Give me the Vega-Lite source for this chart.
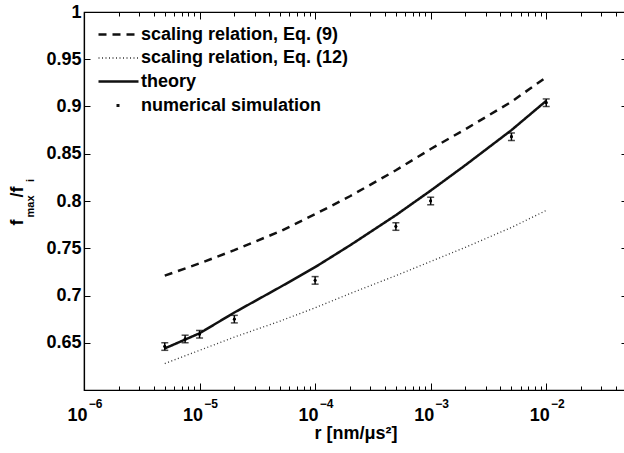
{
  "$schema": "https://vega.github.io/schema/vega-lite/v6.json",
  "width": 543,
  "height": 378,
  "autosize": {"type": "none"},
  "padding": {"left": 84, "top": 12, "right": 0, "bottom": 63},
  "background": "white",
  "config": {
    "view": {"stroke": "black", "strokeWidth": 1.2},
    "font": "Liberation Sans",
    "axis": {
      "grid": false,
      "labelFont": "Liberation Sans",
      "labelFontWeight": "bold",
      "labelFontSize": 18,
      "labelColor": "black",
      "titleFont": "Liberation Sans",
      "titleFontWeight": "bold",
      "titleFontSize": 18,
      "titleColor": "black",
      "domainColor": "black",
      "domainWidth": 1.2,
      "tickColor": "black",
      "tickWidth": 1
    }
  },
  "datasets": {
    "lines": [
      {"series": "scaling relation, Eq. (9)", "r": 5e-6, "f": 0.721},
      {"series": "scaling relation, Eq. (9)", "r": 1e-5, "f": 0.734},
      {"series": "scaling relation, Eq. (9)", "r": 2e-5, "f": 0.748},
      {"series": "scaling relation, Eq. (9)", "r": 5e-5, "f": 0.768},
      {"series": "scaling relation, Eq. (9)", "r": 1e-4, "f": 0.786},
      {"series": "scaling relation, Eq. (9)", "r": 2e-4, "f": 0.805},
      {"series": "scaling relation, Eq. (9)", "r": 5e-4, "f": 0.8325},
      {"series": "scaling relation, Eq. (9)", "r": 1e-3, "f": 0.855},
      {"series": "scaling relation, Eq. (9)", "r": 2e-3, "f": 0.876},
      {"series": "scaling relation, Eq. (9)", "r": 5e-3, "f": 0.905},
      {"series": "scaling relation, Eq. (9)", "r": 1e-2, "f": 0.931},
      {"series": "scaling relation, Eq. (12)", "r": 5e-6, "f": 0.628},
      {"series": "scaling relation, Eq. (12)", "r": 1e-5, "f": 0.642},
      {"series": "scaling relation, Eq. (12)", "r": 2e-5, "f": 0.656},
      {"series": "scaling relation, Eq. (12)", "r": 5e-5, "f": 0.673},
      {"series": "scaling relation, Eq. (12)", "r": 1e-4, "f": 0.687},
      {"series": "scaling relation, Eq. (12)", "r": 2e-4, "f": 0.702},
      {"series": "scaling relation, Eq. (12)", "r": 5e-4, "f": 0.721},
      {"series": "scaling relation, Eq. (12)", "r": 1e-3, "f": 0.736},
      {"series": "scaling relation, Eq. (12)", "r": 2e-3, "f": 0.751},
      {"series": "scaling relation, Eq. (12)", "r": 5e-3, "f": 0.772},
      {"series": "scaling relation, Eq. (12)", "r": 1e-2, "f": 0.790},
      {"series": "theory", "r": 5e-6, "f": 0.644},
      {"series": "theory", "r": 1e-5, "f": 0.660},
      {"series": "theory", "r": 2e-5, "f": 0.682},
      {"series": "theory", "r": 5e-5, "f": 0.709},
      {"series": "theory", "r": 1e-4, "f": 0.730},
      {"series": "theory", "r": 2e-4, "f": 0.753},
      {"series": "theory", "r": 5e-4, "f": 0.785},
      {"series": "theory", "r": 1e-3, "f": 0.811},
      {"series": "theory", "r": 2e-3, "f": 0.838},
      {"series": "theory", "r": 5e-3, "f": 0.875},
      {"series": "theory", "r": 1e-2, "f": 0.906}
    ],
    "sim": [
      {"r": 5e-6, "f": 0.646, "lo": 0.642, "hi": 0.650},
      {"r": 7.5e-6, "f": 0.654, "lo": 0.650, "hi": 0.658},
      {"r": 1e-5, "f": 0.659, "lo": 0.655, "hi": 0.663},
      {"r": 2e-5, "f": 0.675, "lo": 0.671, "hi": 0.679},
      {"r": 1e-4, "f": 0.716, "lo": 0.712, "hi": 0.720},
      {"r": 5e-4, "f": 0.773, "lo": 0.769, "hi": 0.777},
      {"r": 1e-3, "f": 0.800, "lo": 0.796, "hi": 0.804},
      {"r": 5e-3, "f": 0.868, "lo": 0.864, "hi": 0.872},
      {"r": 1e-2, "f": 0.904, "lo": 0.900, "hi": 0.908}
    ]
  },
  "resolve": {"axis": {"x": "independent", "y": "independent"}},
  "layer": [
    {
      "data": {"name": "lines"},
      "mark": {"type": "line", "strokeCap": "butt"},
      "encoding": {
        "x": {
          "field": "r", "type": "quantitative",
          "scale": {"type": "log", "domain": [1e-6, 5e-2], "nice": false},
          "axis": {
            "orient": "bottom",
            "values": [1e-6, 1e-5, 1e-4, 1e-3, 1e-2],
            "labelExpr": "'10'",
            "labelOffset": -7,
            "ticks": false, "domain": true, "labelFlush": false, "labelOverlap": false,
            "labelPadding": 16, "titlePadding": 0,
            "title": "r [nm/μs²]"
          }
        },
        "y": {
          "field": "f", "type": "quantitative",
          "scale": {"domain": [0.6, 1], "nice": false, "zero": false},
          "axis": {
            "orient": "left",
            "values": [0.65, 0.7, 0.75, 0.8, 0.85, 0.9, 0.95, 1],
            "format": ".2~f", "ticks": false, "domain": true, "labelFlush": false,
            "labelPadding": 3,
            "title": "f", "titleX": -61.5, "titleY": 210, "titleBaseline": "alphabetic", "titleAlign": "center", "titleFontSize": 18
          }
        },
        "stroke": {
          "field": "series", "type": "nominal",
          "scale": {
            "domain": ["scaling relation, Eq. (9)", "scaling relation, Eq. (12)", "theory", "numerical simulation"],
            "range": ["#111111", "#333333", "#111111", "#111111"]
          },
          "legend": {
            "title": null, "orient": "none", "legendX": 13, "legendY": 11,
            "symbolType": "M-2,0H2", "symbolSize": 400, "symbolOffset": 10,
            "labelOffset": 11, "labelFont": "Liberation Sans", "labelFontSize": 18,
            "labelFontWeight": "bold", "labelColor": "black", "rowPadding": 3, "padding": 0,
            "labelLimit": 400
          }
        },
        "strokeDash": {
          "field": "series", "type": "nominal",
          "scale": {
            "domain": ["scaling relation, Eq. (9)", "scaling relation, Eq. (12)", "theory", "numerical simulation"],
            "range": [[8, 6], [1, 2.5], [1, 0], [0, 18, 3, 100]]
          },
          "legend": {
            "title": null, "orient": "none", "legendX": 13, "legendY": 11,
            "symbolType": "M-2,0H2", "symbolSize": 400, "symbolOffset": 10,
            "labelOffset": 11, "labelFont": "Liberation Sans", "labelFontSize": 18,
            "labelFontWeight": "bold", "labelColor": "black", "rowPadding": 3, "padding": 0,
            "labelLimit": 400
          }
        },
        "strokeWidth": {
          "field": "series", "type": "nominal",
          "scale": {
            "type": "ordinal",
            "domain": ["scaling relation, Eq. (9)", "scaling relation, Eq. (12)", "theory", "numerical simulation"],
            "range": [2.5, 1.3, 2.5, 3]
          },
          "legend": {
            "title": null, "orient": "none", "legendX": 13, "legendY": 11,
            "symbolType": "M-2,0H2", "symbolSize": 400, "symbolOffset": 10,
            "labelOffset": 11, "labelFont": "Liberation Sans", "labelFontSize": 18,
            "labelFontWeight": "bold", "labelColor": "black", "rowPadding": 3, "padding": 0,
            "labelLimit": 400
          }
        }
      }
    },
    {
      "data": {"name": "sim"},
      "mark": {"type": "rule", "color": "black", "strokeWidth": 1.5},
      "encoding": {
        "x": {
          "field": "r", "type": "quantitative",
          "axis": {"orient": "bottom", "values": [1e-6, 1e-5, 1e-4, 1e-3, 1e-2], "tickSize": -7, "labels": false, "domain": false, "title": null}
        },
        "y": {
          "field": "lo", "type": "quantitative",
          "axis": {"orient": "left", "values": [0.6, 0.65, 0.7, 0.75, 0.8, 0.85, 0.9, 0.95, 1], "tickSize": -6, "labels": false, "domain": false, "title": null}
        },
        "y2": {"field": "hi"}
      }
    },
    {
      "data": {"name": "sim"},
      "mark": {"type": "tick", "orient": "horizontal", "color": "black", "size": 7, "thickness": 1.5},
      "encoding": {
        "x": {
          "field": "r", "type": "quantitative",
          "axis": {
            "orient": "bottom",
            "values": [2e-6, 3e-6, 4e-6, 5e-6, 6e-6, 7e-6, 8e-6, 9e-6, 2e-5, 3e-5, 4e-5, 5e-5, 6e-5, 7e-5, 8e-5, 9e-5, 2e-4, 3e-4, 4e-4, 5e-4, 6e-4, 7e-4, 8e-4, 9e-4, 2e-3, 3e-3, 4e-3, 5e-3, 6e-3, 7e-3, 8e-3, 9e-3, 2e-2, 3e-2, 4e-2],
            "tickSize": -4, "labels": false, "domain": false, "title": null
          }
        },
        "y": {
          "field": "lo", "type": "quantitative",
          "axis": {"orient": "right", "values": [0.6, 0.65, 0.7, 0.75, 0.8, 0.85, 0.9, 0.95, 1], "tickSize": -6, "labels": false, "domain": false, "title": null}
        }
      }
    },
    {
      "data": {"name": "sim"},
      "mark": {"type": "tick", "orient": "horizontal", "color": "black", "size": 7, "thickness": 1.5},
      "encoding": {
        "x": {
          "field": "r", "type": "quantitative",
          "axis": {"orient": "top", "values": [1e-6, 1e-5, 1e-4, 1e-3, 1e-2], "tickSize": -7, "labels": false, "domain": false, "title": null}
        },
        "y": {
          "field": "hi", "type": "quantitative",
          "axis": {"orient": "left", "ticks": false, "labels": false, "domain": false,
                   "title": "max", "titleX": -50.5, "titleY": 194, "titleBaseline": "alphabetic", "titleAlign": "center", "titleFontSize": 11}
        }
      }
    },
    {
      "data": {"name": "sim"},
      "mark": {"type": "point", "filled": true, "shape": "circle", "size": 8, "color": "black", "opacity": 1},
      "encoding": {
        "x": {
          "field": "r", "type": "quantitative",
          "axis": {
            "orient": "top",
            "values": [2e-6, 3e-6, 4e-6, 5e-6, 6e-6, 7e-6, 8e-6, 9e-6, 2e-5, 3e-5, 4e-5, 5e-5, 6e-5, 7e-5, 8e-5, 9e-5, 2e-4, 3e-4, 4e-4, 5e-4, 6e-4, 7e-4, 8e-4, 9e-4, 2e-3, 3e-3, 4e-3, 5e-3, 6e-3, 7e-3, 8e-3, 9e-3, 2e-2, 3e-2, 4e-2],
            "tickSize": -4, "labels": false, "domain": false, "title": null
          }
        },
        "y": {
          "field": "f", "type": "quantitative",
          "axis": {"orient": "left", "ticks": false, "labels": false, "domain": false,
                   "title": "/f", "titleX": -61.5, "titleY": 179.5, "titleBaseline": "alphabetic", "titleAlign": "center", "titleFontSize": 18}
        }
      }
    },
    {
      "data": {"name": "sim"},
      "mark": {"type": "point", "filled": true, "shape": "circle", "size": 8, "color": "black", "opacity": 1},
      "encoding": {
        "x": {
          "field": "r", "type": "quantitative",
          "axis": {
            "orient": "bottom",
            "values": [1e-6, 1e-5, 1e-4, 1e-3, 1e-2],
            "labelExpr": "datum.value < 3e-6 ? '−6' : datum.value < 3e-5 ? '−5' : datum.value < 3e-4 ? '−4' : datum.value < 3e-3 ? '−3' : '−2'",
            "labelOffset": 11, "labelPadding": 8, "labelFontSize": 12, "labelFlush": false, "labelOverlap": false,
            "ticks": false, "domain": false, "title": null
          }
        },
        "y": {
          "field": "f", "type": "quantitative",
          "axis": {"orient": "left", "ticks": false, "labels": false, "domain": false,
                   "title": "i", "titleX": -50.5, "titleY": 168, "titleBaseline": "alphabetic", "titleAlign": "center", "titleFontSize": 11}
        }
      }
    }
  ]
}
